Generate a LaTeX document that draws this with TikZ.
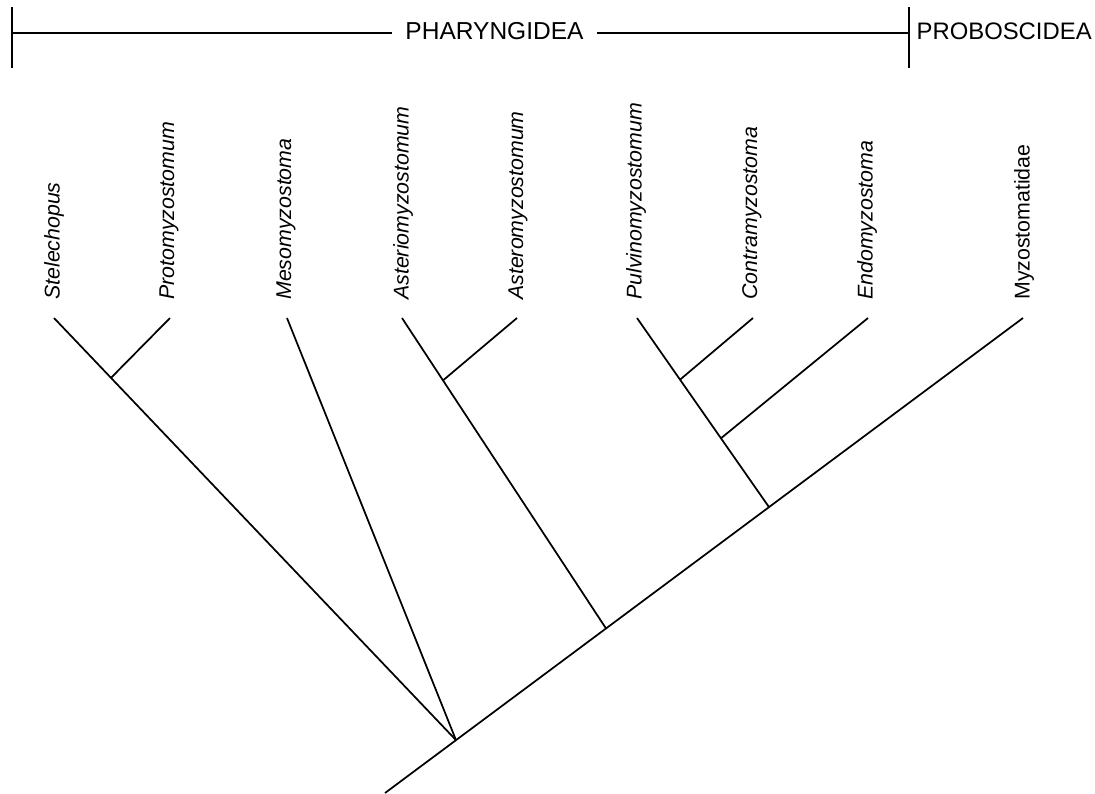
\documentclass[tikz,border=0pt]{standalone}
\usepackage{fontspec}
\setmainfont{Liberation Sans}
\usetikzlibrary{calc}
\begin{document}
\begin{tikzpicture}[x=0.75pt,y=-0.75pt,
  br/.style={line width=1.3pt},
  hdr/.style={font=\fontsize{18.4}{20}\selectfont, inner ysep=0pt, inner xsep=9.75pt},
  lab/.style={font=\fontsize{16}{18}\selectfont\itshape, rotate=90, anchor=west, inner sep=0pt},
  labup/.style={font=\fontsize{16}{18}\selectfont, rotate=90, anchor=west, inner sep=0pt}]
\useasboundingbox (0,0) rectangle (1095,793);

% header
\coordinate (lbt) at (12,7);
\coordinate (lbb) at (12,68);
\coordinate (lbm) at (12,33);
\coordinate (rbt) at (909,7);
\coordinate (rbb) at (909,68);
\coordinate (rbm) at (909,33);
\node[hdr] (phar) at (494.5,31.5) {PHARYNGIDEA};
\node[hdr, font=\fontsize{17.9}{20}\selectfont, anchor=west, inner xsep=5.5pt] (prob) at (909,31.5) {PROBOSCIDEA};
\draw[br] (lbt) -- (lbb);
\draw[br] (rbt) -- (rbb);
\draw[br] (lbm) -- (phar.west |- lbm);
\draw[br] (phar.east |- rbm) -- (rbm);

% labels
\node[lab] (L1) at (54,300) {Stelechopus};
\node[lab] (L2) at (169,300) {Protomyzostomum};
\node[lab] (L3) at (286,300) {Mesomyzostoma};
\node[lab] (L4) at (403,300) {Asteriomyzostomum};
\node[lab] (L5) at (518,300) {Asteromyzostomum};
\node[lab] (L6) at (636,300) {Pulvinomyzostomum};
\node[lab] (L7) at (752,300) {Contramyzostoma};
\node[lab] (L8) at (867,300) {Endomyzostoma};
\node[labup] (L9) at (1024,300) {Myzostomatidae};

% tips
\coordinate (t1) at (54,318);
\coordinate (t2) at (170,318);
\coordinate (t3) at (287,318);
\coordinate (t4) at (402,318);
\coordinate (t5) at (517,318);
\coordinate (t6) at (637,318);
\coordinate (t7) at (753,318);
\coordinate (t8) at (868,318);
\coordinate (t9) at (1023,318);
\coordinate (base) at (385,793);

% internal nodes
\coordinate (root) at ($(base)!0.1113!(t9)$);
\coordinate (nA) at ($(base)!0.3464!(t9)$);
\coordinate (nP) at ($(base)!0.6019!(t9)$);
\coordinate (n1) at ($(t1)!0.1418!(root)$);
\coordinate (nAs) at ($(t4)!0.201!(nA)$);
\coordinate (nC) at ($(t6)!0.326!(nP)$);
\coordinate (nE) at ($(t6)!0.636!(nP)$);

% branches
\draw[br] (base) -- (t9);
\draw[br] (t1) -- (root);
\draw[br] (t2) -- (n1);
\draw[br] (t3) -- (root);
\draw[br] (t4) -- (nA);
\draw[br] (t5) -- (nAs);
\draw[br] (t6) -- (nP);
\draw[br] (t7) -- (nC);
\draw[br] (t8) -- (nE);
\end{tikzpicture}
\end{document}
